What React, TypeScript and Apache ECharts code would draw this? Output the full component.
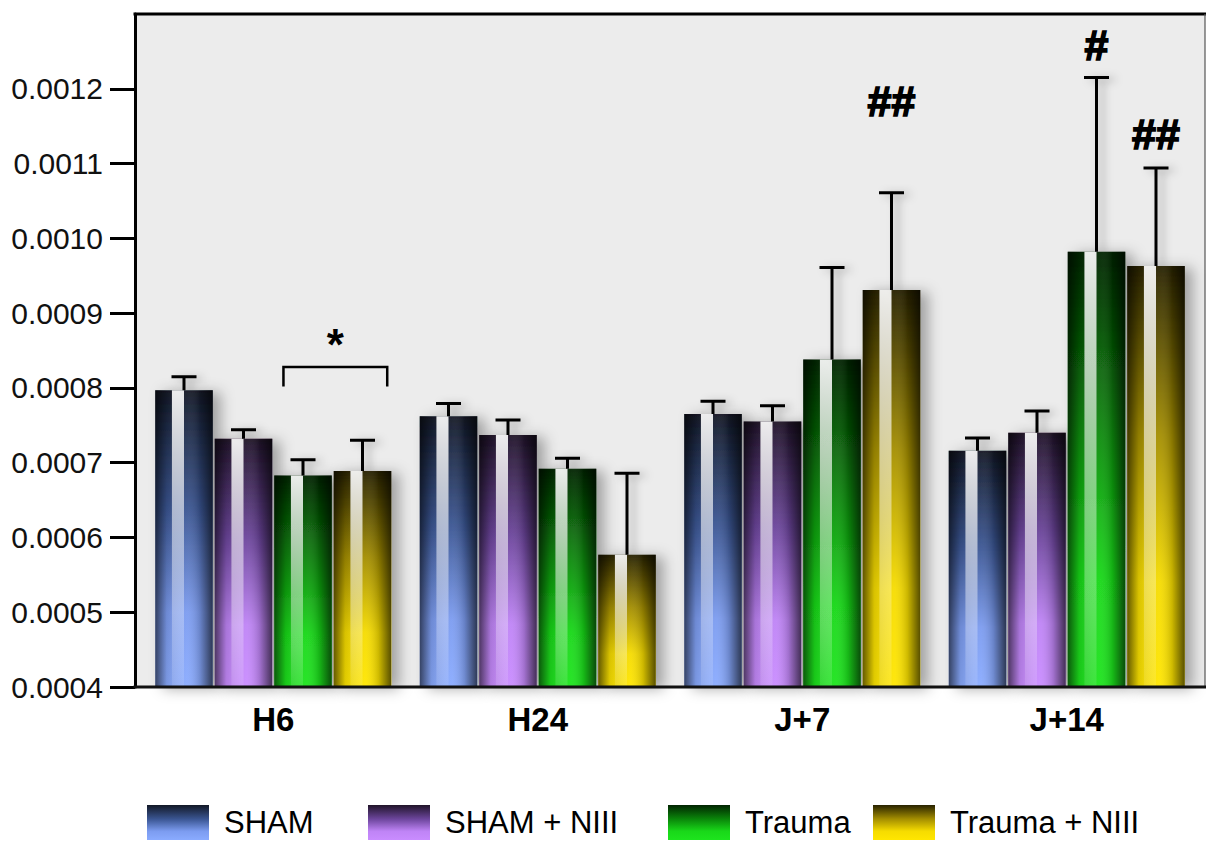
import React, { useEffect, useRef } from "react";
import * as echarts from "echarts";

// ---------- data ----------
const categories = ["H6", "H24", "J+7", "J+14"];
const seriesNames = ["SHAM", "SHAM + NIII", "Trauma", "Trauma + NIII"];
const shamValues = [0.000797, 0.000762, 0.000765, 0.000716];
const shamNiiiValues = [0.000732, 0.000737, 0.000755, 0.00074];
const traumaValues = [0.000683, 0.000692, 0.000838, 0.000982];
const traumaNiiiValues = [0.000689, 0.000577, 0.000931, 0.000963];
const shamErr = [0.000018, 0.000017, 0.000017, 0.000017];
const shamNiiiErr = [0.000012, 0.00002, 0.000021, 0.000029];
const traumaErr = [0.000021, 0.000014, 0.000123, 0.000233];
const traumaNiiiErr = [0.000041, 0.000109, 0.00013, 0.000131];
const yTicks = [0.0004, 0.0005, 0.0006, 0.0007, 0.0008, 0.0009, 0.001, 0.0011, 0.0012];
const Y_MIN = 0.0004;
const Y_MAX = 0.0013;
// significance marks: [category index, series index, text, value of text centre]
const sigMarks: [number, number, string, number][] = [
  [2, 3, "##", 0.001184],
  [3, 2, "#", 0.001258],
  [3, 3, "##", 0.00114],
];
// bracket between Trauma and Trauma + NIII at H6: [category, series from, series to, bar value, leg value, star value]
const brackets: [number, number, number, number, number, number][] = [[0, 2, 3, 0.000828, 0.000802, 0.000858]];

const allValues = [shamValues, shamNiiiValues, traumaValues, traumaNiiiValues];
const allErrs = [shamErr, shamNiiiErr, traumaErr, traumaNiiiErr];

// ---------- styling ----------
const FONT = "'Liberation Sans', Arial, sans-serif";
const BAR_W = 57.5;
const BAR_GAP = 2;
const N_SER = 4;
const GROUP_W = N_SER * BAR_W + (N_SER - 1) * BAR_GAP;
const PLOT_L = 135;
const PLOT_R = 1205;
const PLOT_T = 14;
const PLOT_B = 687;
const GRID_L = 141;
const GRID_R = 1199;
const LEGEND_X = [147, 368, 668, 873];

const gradStops = [
  ["#121826", "#3a5592", "#7c9cf0", "#8aabff"],
  ["#201429", "#6c459c", "#bf84f6", "#c98cff"],
  ["#012401", "#0a860a", "#19d819", "#1de41d"],
  ["#282200", "#a48e00", "#f6dc00", "#ffe600"],
];

function vGrad(c: string[]) {
  return {
    type: "linear",
    x: 0,
    y: 0,
    x2: 0,
    y2: 1,
    colorStops: [
      { offset: 0, color: c[0] },
      { offset: 0.4, color: c[1] },
      { offset: 0.75, color: c[2] },
      { offset: 1, color: c[3] },
    ],
  };
}

function barX(center: number, s: number) {
  return center - GROUP_W / 2 + s * (BAR_W + BAR_GAP);
}

export default function App() {
  const ref = useRef<HTMLDivElement>(null);
  useEffect(() => {
    if (!ref.current) return;
    const chart = echarts.init(ref.current, null, { renderer: "svg" });

    const barSeries = seriesNames.map((name, s) => ({
      name,
      type: "bar",
      data: allValues[s],
      barWidth: BAR_W,
      barGap: `${(BAR_GAP / BAR_W) * 100}%`,
      z: 2,
      itemStyle: {
        color: vGrad(gradStops[s]),
        shadowBlur: 14,
        shadowColor: "rgba(0,0,0,0.32)",
        shadowOffsetX: 8,
        shadowOffsetY: 2,
      },
    }));

    const overlayData: number[][] = [];
    for (let s = 0; s < N_SER; s++) {
      for (let c = 0; c < categories.length; c++) {
        overlayData.push([c, allValues[s][c], allErrs[s][c], s]);
      }
    }

    const overlaySeries = {
      type: "custom",
      name: "overlay",
      z: 5,
      silent: true,
      encode: { x: 0, y: 1 },
      data: overlayData,
      renderItem: (params: any, api: any) => {
        const c = api.value(0);
        const v = api.value(1);
        const e = api.value(2);
        const s = api.value(3);
        const base = api.coord([c, Y_MIN]);
        const top = api.coord([c, v]);
        const errTop = api.coord([c, v + e]);
        const x0 = barX(base[0], s);
        const h = base[1] - top[1];
        const cx = x0 + BAR_W / 2;
        return {
          type: "group",
          children: [
            {
              type: "rect",
              shape: { x: x0, y: top[1], width: BAR_W, height: h },
              style: {
                fill: {
                  type: "linear",
                  x: 0,
                  y: 0,
                  x2: 1,
                  y2: 0,
                  colorStops: [
                    { offset: 0, color: "rgba(0,0,0,0.6)" },
                    { offset: 0.2, color: "rgba(0,0,0,0.12)" },
                    { offset: 0.55, color: "rgba(255,255,255,0.05)" },
                    { offset: 0.78, color: "rgba(0,0,0,0.18)" },
                    { offset: 1, color: "rgba(0,0,0,0.65)" },
                  ],
                },
              },
            },
            {
              type: "rect",
              shape: { x: x0 + 0.29 * BAR_W, y: top[1], width: 0.21 * BAR_W, height: h },
              style: {
                fill: {
                  type: "linear",
                  x: 0,
                  y: 0,
                  x2: 0,
                  y2: 1,
                  colorStops: [
                    { offset: 0, color: "rgba(255,255,255,0.92)" },
                    { offset: 0.45, color: "rgba(255,255,255,0.55)" },
                    { offset: 1, color: "rgba(255,255,255,0.1)" },
                  ],
                },
              },
            },
            {
              type: "polyline",
              shape: {
                points: [
                  [cx, top[1]],
                  [cx, errTop[1]],
                  [cx - 12.5, errTop[1]],
                  [cx + 12.5, errTop[1]],
                ],
              },
              style: {
                stroke: "#000",
                fill: "none",
                lineWidth: 3,
                shadowBlur: 8,
                shadowColor: "rgba(0,0,0,0.3)",
                shadowOffsetX: 6,
                shadowOffsetY: 2,
              },
            },
          ],
        };
      },
    };

    const sigSeries = {
      type: "custom",
      name: "sig",
      z: 6,
      silent: true,
      encode: { x: 0, y: 1 },
      data: sigMarks.map((m) => [m[0], m[3], m[1]]),
      renderItem: (params: any, api: any) => {
        const m = sigMarks[params.dataIndex];
        const p = api.coord([m[0], m[3]]);
        const x = barX(p[0], m[1]) + BAR_W / 2;
        return {
          type: "text",
          x,
          y: p[1],
          style: {
            text: m[2],
            fill: "#000",
            stroke: "#000",
            lineWidth: 1.6,
            fontSize: 43,
            fontWeight: "bold",
            fontFamily: FONT,
            align: "center",
            verticalAlign: "middle",
          },
        };
      },
    };

    const bracketSeries = {
      type: "custom",
      name: "bracket",
      z: 6,
      silent: true,
      encode: { x: 0, y: 1 },
      data: brackets.map((b) => [b[0], b[3]]),
      renderItem: (params: any, api: any) => {
        const b = brackets[params.dataIndex];
        const pTop = api.coord([b[0], b[3]]);
        const pLeg = api.coord([b[0], b[4]]);
        const pStar = api.coord([b[0], b[5]]);
        const xl = barX(pTop[0], b[1]) + 0.16 * BAR_W;
        const xr = barX(pTop[0], b[2]) + 0.93 * BAR_W;
        return {
          type: "group",
          children: [
            {
              type: "polyline",
              shape: {
                points: [
                  [xl, pLeg[1]],
                  [xl, pTop[1]],
                  [xr, pTop[1]],
                  [xr, pLeg[1]],
                ],
              },
              style: { stroke: "#000", lineWidth: 2.5, fill: "none" },
            },
            {
              type: "text",
              x: (xl + xr) / 2,
              y: pStar[1],
              style: {
                text: "*",
                fill: "#000",
                fontSize: 44,
                fontWeight: "bold",
                fontFamily: FONT,
                align: "center",
                verticalAlign: "middle",
              },
            },
          ],
        };
      },
    };

    const legends = seriesNames.map((name, i) => ({
      data: [name],
      left: LEGEND_X[i],
      top: 805,
      padding: 0,
      itemWidth: 62,
      itemHeight: 35,
      icon: "rect",
      itemStyle: { shadowBlur: 0, shadowOffsetX: 0, shadowOffsetY: 0 },
      textStyle: {
        fontFamily: FONT,
        fontSize: 31,
        color: "#000",
        padding: [0, 0, 0, 10],
      },
    }));

    const option: any = {
      animation: false,
      backgroundColor: "#ffffff",
      graphic: [
        {
          type: "rect",
          z: -10,
          silent: true,
          shape: { x: PLOT_L, y: PLOT_T, width: PLOT_R - PLOT_L, height: PLOT_B - PLOT_T },
          style: { fill: "#ececec" },
        },
        {
          type: "line",
          z: 10,
          silent: true,
          shape: { x1: PLOT_L - 1.5, y1: PLOT_T, x2: PLOT_R + 1, y2: PLOT_T },
          style: { stroke: "#000", lineWidth: 3 },
        },
        {
          type: "line",
          z: 10,
          silent: true,
          shape: { x1: PLOT_R, y1: PLOT_T, x2: PLOT_R, y2: PLOT_B },
          style: { stroke: "#555", lineWidth: 1.2 },
        },
        {
          type: "line",
          z: 10,
          silent: true,
          shape: { x1: PLOT_L - 1.5, y1: PLOT_B, x2: PLOT_R + 1, y2: PLOT_B },
          style: { stroke: "#111", lineWidth: 3 },
        },
      ],
      grid: {
        left: GRID_L,
        top: PLOT_T,
        width: GRID_R - GRID_L,
        height: PLOT_B - PLOT_T,
        containLabel: false,
      },
      legend: legends,
      xAxis: {
        type: "category",
        data: categories,
        axisLine: { show: false },
        axisTick: { show: false },
        axisLabel: {
          margin: 16,
          fontFamily: FONT,
          fontWeight: "bold",
          fontSize: 33,
          color: "#000",
        },
      },
      yAxis: {
        type: "value",
        min: Y_MIN,
        max: Y_MAX,
        interval: 0.0001,
        offset: GRID_L - PLOT_L,
        splitLine: { show: false },
        axisLine: { show: true, lineStyle: { color: "#000", width: 3 } },
        axisTick: {
          show: true,
          length: 25,
          lineStyle: { color: "#000", width: 3 },
          customValues: yTicks,
        },
        axisLabel: {
          customValues: yTicks,
          margin: 32,
          fontFamily: FONT,
          fontSize: 30,
          color: "#111",
          formatter: (v: number) => v.toFixed(4),
        },
      },
      series: [...barSeries, overlaySeries, sigSeries, bracketSeries],
    };
    chart.setOption(option);
    return () => chart.dispose();
  }, []);
  return (
    <div
      ref={ref}
      style={{ position: "fixed", left: 0, top: 0, width: 1206, height: 841, background: "#fff" }}
    />
  );
}
